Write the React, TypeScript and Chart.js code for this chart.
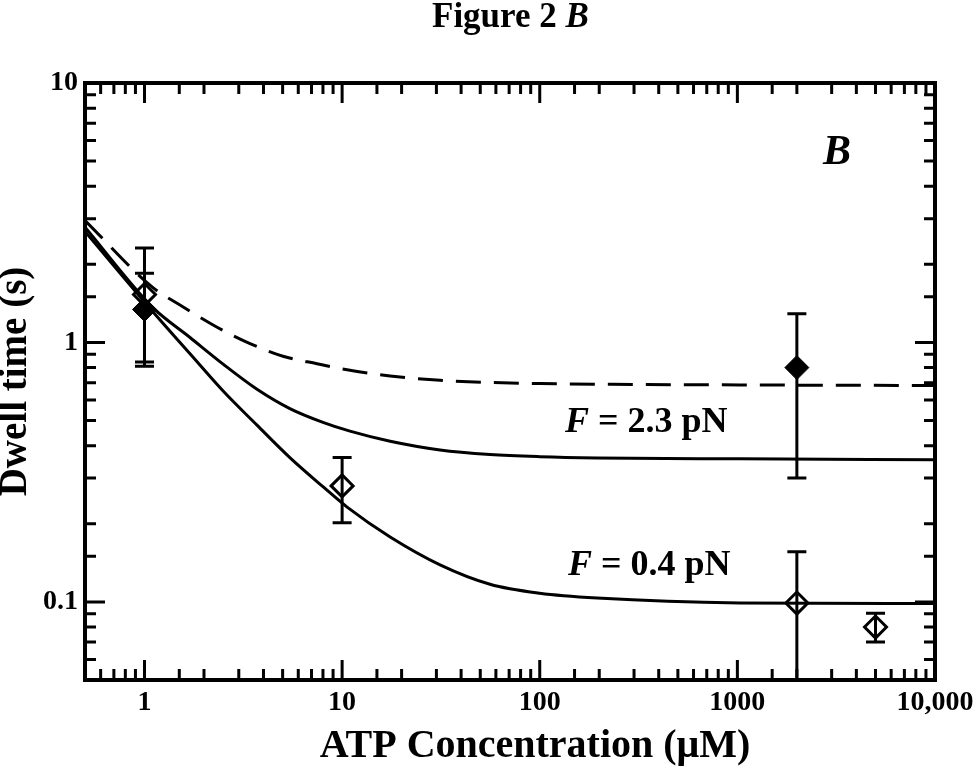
import { useEffect, useRef } from 'react';
import { Chart, registerables } from 'chart.js';
Chart.register(...registerables);

const SERIF = '"Liberation Serif", "Times New Roman", Times, serif';

// F = 2.3 pN, filled diamonds
const atpFilled = [1, 2000];
const dwellFilled = [1.34, 0.8];
const filledLow = [0.84, 0.3];
const filledHigh = [1.85, 1.29];

// F = 0.4 pN, open diamonds
const atpOpen = [1, 10, 2000, 5000];
const dwellOpen = [1.53, 0.28, 0.099, 0.08];
const openLow = [0.81, 0.202, 0.04, 0.07];
const openHigh = [2.31, 0.36, 0.156, 0.0905];

// fitted curves
const dashedX = [0.5, 1.1, 1.57, 2.33, 3.42, 5.02, 7.46, 10.6, 17.5, 31.3, 56, 100, 195, 1030, 10000];
const dashedY = [2.95, 1.63, 1.37, 1.145, 0.99, 0.885, 0.828, 0.785, 0.743, 0.715, 0.701, 0.694, 0.69, 0.686, 0.682];
const highX = [0.5, 1.1, 1.7, 2.5, 3.71, 5.44, 8.0, 10.96, 17.5, 31.3, 56, 100, 195, 1030, 10000];
const highY = [2.78, 1.365, 1.045, 0.825, 0.66, 0.556, 0.492, 0.455, 0.416, 0.385, 0.37, 0.363, 0.359, 0.356, 0.353];
const lowX = [0.5, 1.1, 1.7, 2.5, 3.71, 5.44, 8.0, 10.6, 17.5, 31.3, 56, 100, 195, 1030, 10000];
const lowY = [2.68, 1.317, 0.905, 0.65, 0.48, 0.36, 0.278, 0.232, 0.178, 0.139, 0.117, 0.108, 0.1035, 0.0991, 0.0985];

const xTicks: [number, string][] = [[1, '1'], [10, '10'], [100, '100'], [1000, '1000'], [10000, '10,000']];
const yTicks: [number, string][] = [[0.1, '0.1'], [1, '1'], [10, '10']];

const pts = (xs: number[], ys: number[]) => xs.map((x, i) => ({ x, y: ys[i] }));
const isDecade = (v: number) => Math.abs(Math.log10(v) - Math.round(Math.log10(v))) < 1e-6;
const findLabel = (list: [number, string][], v: number) => {
  const hit = list.find(([k]) => Math.abs(Math.log10(k) - Math.log10(v)) < 1e-6);
  return hit ? hit[1] : '';
};

function drawRun(ctx: CanvasRenderingContext2D, parts: [string, string][], x: number, y: number) {
  let cx = x;
  for (const [text, font] of parts) {
    ctx.font = font;
    ctx.fillText(text, cx, y);
    cx += ctx.measureText(text).width;
  }
}

const decor = {
  id: 'decor',
  beforeDatasetsDraw(chart: any) {
    const { ctx, chartArea: a, scales } = chart;
    ctx.save();
    ctx.beginPath();
    ctx.rect(a.left, a.top, a.right - a.left, a.bottom - a.top);
    ctx.clip();
    ctx.strokeStyle = '#000';
    ctx.lineWidth = 3;
    chart.data.datasets.forEach((ds: any) => {
      if (!ds.errLow) return;
      ds.data.forEach((p: any, i: number) => {
        const x = scales.x.getPixelForValue(p.x);
        const y1 = scales.y.getPixelForValue(ds.errLow[i]);
        const y2 = scales.y.getPixelForValue(ds.errHigh[i]);
        ctx.beginPath();
        ctx.moveTo(x, y1); ctx.lineTo(x, y2);
        ctx.moveTo(x - 9.5, y1); ctx.lineTo(x + 9.5, y1);
        ctx.moveTo(x - 9.5, y2); ctx.lineTo(x + 9.5, y2);
        ctx.stroke();
      });
    });
    ctx.restore();
  },
  afterDraw(chart: any) {
    const { ctx, chartArea: a, scales } = chart;
    ctx.save();
    ctx.strokeStyle = '#000';
    ctx.lineWidth = 3;
    ctx.beginPath();
    for (const t of scales.x.ticks) {
      const px = scales.x.getPixelForValue(t.value);
      const len = isDecade(t.value) ? 20 : 11;
      ctx.moveTo(px, a.bottom); ctx.lineTo(px, a.bottom - len);
      ctx.moveTo(px, a.top); ctx.lineTo(px, a.top + len);
    }
    for (const t of scales.y.ticks) {
      const py = scales.y.getPixelForValue(t.value);
      const len = isDecade(t.value) ? 20 : 11;
      ctx.moveTo(a.left, py); ctx.lineTo(a.left + len, py);
      ctx.moveTo(a.right, py); ctx.lineTo(a.right - len, py);
    }
    ctx.stroke();
    ctx.lineWidth = 4;
    ctx.strokeRect(a.left, a.top, a.right - a.left, a.bottom - a.top);

    ctx.fillStyle = '#000';
    ctx.textBaseline = 'alphabetic';
    ctx.textAlign = 'left';
    drawRun(ctx, [['Figure 2 ', `bold 35px ${SERIF}`], ['B', `italic bold 35px ${SERIF}`]], 432, 27);
    drawRun(ctx, [['B', `italic bold 42px ${SERIF}`]], 823, 164);
    drawRun(ctx, [['F', `italic bold 36px ${SERIF}`], [' = 2.3 pN', `bold 36px ${SERIF}`]], 565, 432);
    drawRun(ctx, [['F', `italic bold 36px ${SERIF}`], [' = 0.4 pN', `bold 36px ${SERIF}`]], 568, 575);
    ctx.textAlign = 'center';
    ctx.font = `bold 40px ${SERIF}`;
    ctx.fillText('ATP Concentration (\u03bcM)', 535, 757);
    ctx.restore();
  },
};

export default function App() {
  const ref = useRef<HTMLCanvasElement | null>(null);
  useEffect(() => {
    if (!ref.current) return;
    const curve = (data: any, dash: number[]) => ({
      type: 'line',
      data,
      showLine: true,
      borderColor: '#000',
      borderWidth: 3,
      borderDash: dash,
      pointRadius: 0,
      cubicInterpolationMode: 'monotone',
      fill: false,
    });
    const chart = new Chart(ref.current, {
      type: 'scatter',
      data: {
        datasets: [
          curve(pts(dashedX, dashedY), [25, 13]),
          curve(pts(highX, highY), []),
          curve(pts(lowX, lowY), []),
          {
            data: pts(atpFilled, dwellFilled),
            errLow: filledLow,
            errHigh: filledHigh,
            pointStyle: 'rectRot',
            pointRadius: 12,
            backgroundColor: '#000',
            borderColor: '#000',
            borderWidth: 1,
          } as any,
          {
            data: pts(atpOpen, dwellOpen),
            errLow: openLow,
            errHigh: openHigh,
            pointStyle: 'rectRot',
            pointRadius: 11,
            backgroundColor: 'rgba(0,0,0,0)',
            borderColor: '#000',
            borderWidth: 3,
          } as any,
        ] as any,
      },
      options: {
        animation: false,
        responsive: false,
        devicePixelRatio: 1,
        layout: { padding: { top: 83, right: 40, left: 0, bottom: 0 } },
        plugins: { legend: { display: false }, tooltip: { enabled: false } },
        scales: {
          x: {
            type: 'logarithmic',
            min: 0.5,
            max: 10000,
            grid: { display: false, drawTicks: false },
            border: { display: false },
            ticks: {
              autoSkip: false,
              maxRotation: 0,
              padding: 6,
              color: '#000',
              font: { family: SERIF, size: 28, weight: 'bold' },
              callback: (v: any) => findLabel(xTicks, Number(v)),
            },
            afterFit: (s: any) => { s.height = 86; s.paddingLeft = 0; s.paddingRight = 0; },
          },
          y: {
            type: 'logarithmic',
            min: 0.05,
            max: 10,
            grid: { display: false, drawTicks: false },
            border: { display: false },
            ticks: {
              autoSkip: false,
              padding: 7,
              color: '#000',
              font: { family: SERIF, size: 28, weight: 'bold' },
              callback: (v: any) => findLabel(yTicks, Number(v)),
            },
            title: {
              display: true,
              text: 'Dwell time (s)',
              color: '#000',
              padding: 0,
              font: { family: SERIF, size: 39, weight: 'bold', lineHeight: 0.8 },
            },
            afterFit: (s: any) => { s.width = 85; s.paddingTop = 0; s.paddingBottom = 0; },
          },
        },
      } as any,
      plugins: [decor],
    });
    return () => chart.destroy();
  }, []);
  return (
    <div style={{ position: 'absolute', left: 0, top: 0, width: 975, height: 766, background: '#fff' }}>
      <canvas ref={ref} width={975} height={766} style={{ width: 975, height: 766 }} />
    </div>
  );
}
